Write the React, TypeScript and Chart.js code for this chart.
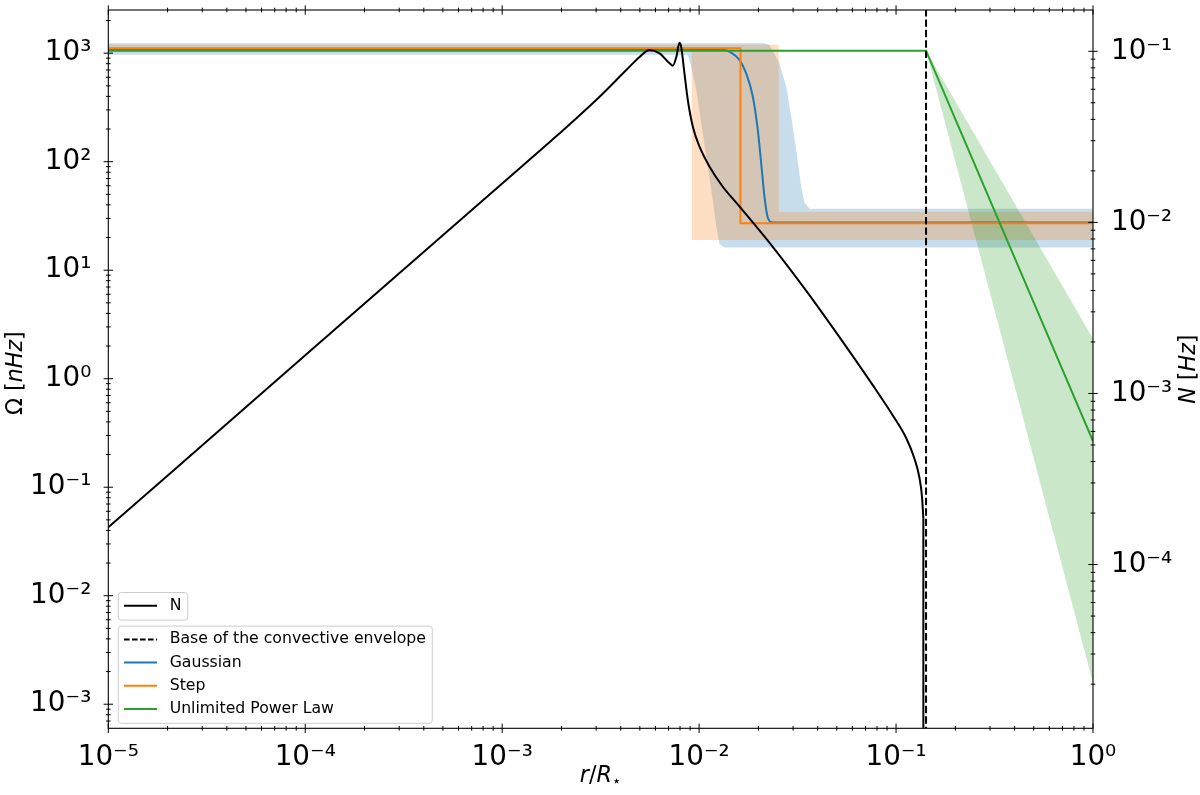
import React, { useEffect, useRef } from 'react';
import { Chart, registerables } from 'chart.js';

Chart.register(...registerables);

// ---------------- axis ranges ----------------
const R_RANGE = [1e-5, 1];
const OMEGA_RANGE = [6.37e-4, 2500];
const N_RANGE = [1.104e-5, 0.1743];

// ---------------- tick labels ----------------
const R_TICKS = [1e-5, 1e-4, 1e-3, 1e-2, 1e-1, 1];
const R_TICK_LABELS = ['10⁻⁵', '10⁻⁴', '10⁻³', '10⁻²', '10⁻¹', '10⁰'];
const OMEGA_TICKS = [1e-3, 1e-2, 1e-1, 1, 10, 100, 1000];
const OMEGA_TICK_LABELS = ['10⁻³', '10⁻²', '10⁻¹', '10⁰', '10¹', '10²', '10³'];
const N_TICKS = [1e-4, 1e-3, 1e-2, 1e-1];
const N_TICK_LABELS = ['10⁻⁴', '10⁻³', '10⁻²', '10⁻¹'];

// ---------------- Brunt-Vaisala frequency N (right axis, Hz) ----------------
const N_R = [1e-5, 1e-4, 1e-3, 1.957e-3, 3.124e-3, 4.266e-3, 4.983e-3, 5.603e-3, 6.296e-3, 7.076e-3,
  7.355e-3, 7.669e-3, 7.945e-3, 8.104e-3, 8.424e-3, 8.761e-3, 9.292e-3, 1.005e-2, 1.13e-2, 1.319e-2,
  1.543e-2, 1.802e-2, 2.365e-2, 3.494e-2, 5.161e-2, 7.615e-2, 9.612e-2, 0.1124, 0.1238, 0.1313,
  0.1355, 0.1376];
const N_HZ = [1.652e-4, 1.67e-3, 1.687e-2, 3.315e-2, 5.426e-2, 7.77e-2, 9.26e-2, 1.018e-1, 9.73e-2, 8.51e-2,
  8.24e-2, 9.3e-2, 1.123e-1, 1.064e-1, 7.43e-2, 5.19e-2, 3.62e-2, 2.768e-2, 2.114e-2, 1.615e-2,
  1.305e-2, 1.055e-2, 7.2e-3, 3.993e-3, 2.134e-3, 1.118e-3, 7.46e-4, 5.51e-4, 4.18e-4, 3.24e-4,
  2.475e-4, 1.866e-4];
// N falls to zero at the base of the convective envelope
const N_DROP_R = [0.1376, 0.1376];
const N_DROP_HZ = [1.866e-4, 1e-7];

// ---------------- base of the convective envelope ----------------
const BCE_R = [0.142, 0.142];
const BCE_OMEGA = [1e-5, 1e5];

// ---------------- Gaussian profile (left axis, nHz) ----------------
const GAUSS_R = [1e-5, 0.0105, 0.01346, 0.01425, 0.01601, 0.01732, 0.01873, 0.01985, 0.02065, 0.02146, 0.02231, 0.02365, 1];
const GAUSS_OMEGA = [1090, 1088, 1072, 1034, 868, 655, 399, 197.6, 97.7, 48.2, 30.5, 27.5, 27.5];
const GAUSS_BAND_R = [1e-5, 0.0215, 0.02276, 0.02557, 0.02766, 0.02933, 0.03109, 0.03296, 0.03425, 0.03633, 1,
  1, 0.01345, 0.01269, 0.01221, 0.01152, 0.01086, 0.01025, 0.00967, 0.00894, 0.00873, 1e-5];
const GAUSS_BAND_OMEGA = [1235, 1235, 1192, 814, 493, 261.7, 129.4, 59.6, 41.9, 36.9, 36.9,
  16.2, 16.2, 17.4, 25.6, 55.5, 112.3, 229, 460, 868, 965, 965];

// ---------------- Step profile ----------------
const STEP_R = [1e-5, 0.01622, 0.01622, 1];
const STEP_OMEGA = [1111, 1111, 27.07, 27.07];
const STEP_BAND_R = [1e-5, 0.02537, 0.02537, 1, 1, 0.00918, 0.00918, 1e-5];
const STEP_BAND_OMEGA = [1199, 1199, 34.4, 34.4, 19.02, 19.02, 1029, 1029];

// ---------------- Unlimited power law ----------------
const UPL_R = [1e-5, 0.142, 1];
const UPL_OMEGA = [1055, 1055, 0.266];
const UPL_BAND_R = [0.142, 1, 1];
const UPL_BAND_OMEGA = [1055, 2.33, 1.58e-3];

// ---------------- styling ----------------
const BLUE = '#1f77b4';
const ORANGE = '#ff7f0e';
const GREEN = '#2ca02c';
const FAMILY = "'DejaVu Sans'";
const TICK_SIZE = 27.8;
const LABEL_SIZE = 22.2;
const LEGEND_SIZE = 15.7;

const pts = (xs: number[], ys: number[]) => xs.map((x, i) => ({ x, y: ys[i] }));

function logTicks(min: number, max: number): number[] {
  const out: number[] = [];
  const e0 = Math.floor(Math.log10(min));
  const e1 = Math.ceil(Math.log10(max));
  for (let e = e0; e <= e1; e++) {
    for (let m = 1; m <= 9; m++) {
      const v = m * Math.pow(10, e);
      if (v >= min * (1 - 1e-9) && v <= max * (1 + 1e-9)) out.push(v);
    }
  }
  return out;
}
const isDecade = (v: number) => {
  const l = Math.log10(v);
  return Math.abs(l - Math.round(l)) < 1e-6;
};
function labelFor(v: number, ticks: number[], labels: string[]) {
  for (let i = 0; i < ticks.length; i++) {
    if (Math.abs(Math.log10(v) - Math.log10(ticks[i])) < 1e-6) return labels[i];
  }
  return '';
}

// frame + inout ticks on all four spines
const frameTicksPlugin = {
  id: 'frameTicks',
  afterDatasetsDraw(chart: any) {
    const { ctx, chartArea: a, scales } = chart;
    ctx.save();
    ctx.strokeStyle = '#000';
    ctx.lineWidth = 1;
    const seg = (x1: number, y1: number, x2: number, y2: number) => {
      ctx.beginPath();
      ctx.moveTo(x1, y1);
      ctx.lineTo(x2, y2);
      ctx.stroke();
    };
    const MAJ = 4.7;
    const MIN = 2.3;
    for (const v of logTicks(R_RANGE[0], R_RANGE[1])) {
      const p = scales.x.getPixelForValue(v);
      const L = isDecade(v) ? MAJ : MIN;
      seg(p, a.bottom - L, p, a.bottom + L);
      seg(p, a.top - L, p, a.top + L);
    }
    for (const v of logTicks(OMEGA_RANGE[0], OMEGA_RANGE[1])) {
      const p = scales.y.getPixelForValue(v);
      const L = isDecade(v) ? MAJ : MIN;
      seg(a.left - L, p, a.left + L, p);
    }
    for (const v of logTicks(N_RANGE[0], N_RANGE[1])) {
      const p = scales.y2.getPixelForValue(v);
      const L = isDecade(v) ? MAJ : MIN;
      seg(a.right - L, p, a.right + L, p);
    }
    ctx.lineWidth = 1.1;
    ctx.strokeRect(a.left, a.top, a.right - a.left, a.bottom - a.top);
    ctx.restore();
  },
};

type Seg = { t: string; it?: boolean; scale?: number; dy?: number };
function drawSegs(ctx: CanvasRenderingContext2D, segs: Seg[], size: number) {
  const widths = segs.map((s) => {
    ctx.font = `${s.it ? 'italic ' : ''}${size * (s.scale || 1)}px ${FAMILY}`;
    return ctx.measureText(s.t).width;
  });
  const total = widths.reduce((p, c) => p + c, 0);
  let x = -total / 2;
  ctx.textBaseline = 'alphabetic';
  ctx.textAlign = 'left';
  segs.forEach((s, i) => {
    ctx.font = `${s.it ? 'italic ' : ''}${size * (s.scale || 1)}px ${FAMILY}`;
    ctx.fillText(s.t, x, s.dy || 0);
    x += widths[i];
  });
}

const titlesPlugin = {
  id: 'axisTitles',
  afterDraw(chart: any) {
    const { ctx, chartArea: a } = chart;
    const cy = (a.top + a.bottom) / 2;
    const cx = (a.left + a.right) / 2;
    ctx.save();
    ctx.fillStyle = '#000';
    ctx.save();
    ctx.translate(22, cy + 4);
    ctx.rotate(-Math.PI / 2);
    drawSegs(ctx, [{ t: 'Ω' }, { t: ' [' }, { t: 'nHz', it: true }, { t: ']' }], LABEL_SIZE);
    ctx.restore();
    ctx.save();
    ctx.translate(1195, cy);
    ctx.rotate(-Math.PI / 2);
    drawSegs(ctx, [{ t: 'N', it: true }, { t: ' [' }, { t: 'Hz', it: true }, { t: ']' }], LABEL_SIZE);
    ctx.restore();
    ctx.save();
    ctx.translate(cx, 782);
    drawSegs(ctx, [{ t: 'r', it: true }, { t: '/' }, { t: 'R', it: true }, { t: '⋆', scale: 0.7, dy: 4 }], LABEL_SIZE);
    ctx.restore();
    ctx.restore();
  },
};

function roundRect(ctx: CanvasRenderingContext2D, x: number, y: number, w: number, h: number, r: number) {
  ctx.beginPath();
  ctx.moveTo(x + r, y);
  ctx.lineTo(x + w - r, y);
  ctx.arcTo(x + w, y, x + w, y + r, r);
  ctx.lineTo(x + w, y + h - r);
  ctx.arcTo(x + w, y + h, x + w - r, y + h, r);
  ctx.lineTo(x + r, y + h);
  ctx.arcTo(x, y + h, x, y + h - r, r);
  ctx.lineTo(x, y + r);
  ctx.arcTo(x, y, x + r, y, r);
  ctx.closePath();
}

function drawLegendBox(ctx: CanvasRenderingContext2D, left: number, bottom: number, items: any[]) {
  const padL = 5.7, handle = 33, gap = 12.7, padR = 6.3, rowH = 23.2, padT = 13.3, padB = 14.3;
  ctx.font = `${LEGEND_SIZE}px ${FAMILY}`;
  const textW = Math.max(...items.map((it) => ctx.measureText(it.label).width));
  const w = padL + handle + gap + textW + padR;
  const h = padT + padB + (items.length - 1) * rowH;
  const top = bottom - h;
  roundRect(ctx, left, top, w, h, 3);
  ctx.fillStyle = 'rgba(255,255,255,0.8)';
  ctx.fill();
  ctx.strokeStyle = '#cccccc';
  ctx.lineWidth = 1;
  ctx.stroke();
  items.forEach((it, i) => {
    const y = top + padT + i * rowH;
    ctx.save();
    ctx.strokeStyle = it.borderColor;
    ctx.lineWidth = it.borderWidth;
    ctx.setLineDash(it.borderDash ? [5.6, 2.4] : []);
    ctx.beginPath();
    ctx.moveTo(left + padL, y);
    ctx.lineTo(left + padL + handle, y);
    ctx.stroke();
    ctx.restore();
    ctx.fillStyle = '#000';
    ctx.textBaseline = 'middle';
    ctx.textAlign = 'left';
    ctx.font = `${LEGEND_SIZE}px ${FAMILY}`;
    ctx.fillText(it.label, left + padL + handle + gap, y);
  });
  return top;
}

const legendPlugin = {
  id: 'twinLegends',
  afterDraw(chart: any) {
    const { ctx, chartArea: a } = chart;
    const ds = chart.data.datasets;
    const box1 = ds.filter((d: any) => d.legendBox === 1);
    const box2 = ds.filter((d: any) => d.legendBox === 2).sort((p: any, q: any) => p.legendRank - q.legendRank);
    ctx.save();
    const top2 = drawLegendBox(ctx, a.left + 10, a.bottom - 5, box2);
    drawLegendBox(ctx, a.left + 10, top2 - 6, box1);
    ctx.restore();
  },
};

const tickFont = { family: FAMILY, size: TICK_SIZE };

export default function App() {
  const ref = useRef<HTMLCanvasElement>(null);
  useEffect(() => {
    const line = { pointRadius: 0, pointHoverRadius: 0, pointHitRadius: 0, fill: false };
    const band = {
      pointRadius: 0, pointHoverRadius: 0, pointHitRadius: 0,
      borderWidth: 0, borderColor: 'rgba(0,0,0,0)', fill: 'shape', tension: 0,
    };
    const chart = new Chart(ref.current as HTMLCanvasElement, {
      type: 'line',
      data: {
        datasets: [
          { ...line, label: 'N', data: pts(N_R, N_HZ), yAxisID: 'y2', borderColor: '#000', borderWidth: 2,
            cubicInterpolationMode: 'monotone', order: 1, legendBox: 1, legendRank: 0 } as any,
          { ...line, label: 'N (drop at envelope base)', data: pts(N_DROP_R, N_DROP_HZ), yAxisID: 'y2',
            borderColor: '#000', borderWidth: 2, order: 1 } as any,
          { ...line, label: 'Base of the convective envelope', data: pts(BCE_R, BCE_OMEGA), yAxisID: 'y',
            borderColor: '#000', borderWidth: 2, borderDash: [7.4, 3], order: 2, legendBox: 2, legendRank: 0 } as any,
          { ...line, label: 'Gaussian', data: pts(GAUSS_R, GAUSS_OMEGA), yAxisID: 'y', borderColor: BLUE,
            borderWidth: 2, cubicInterpolationMode: 'monotone', order: 5, legendBox: 2, legendRank: 1 } as any,
          { ...line, label: 'Step', data: pts(STEP_R, STEP_OMEGA), yAxisID: 'y', borderColor: ORANGE,
            borderWidth: 2, order: 4, legendBox: 2, legendRank: 2 } as any,
          { ...line, label: 'Unlimited Power Law', data: pts(UPL_R, UPL_OMEGA), yAxisID: 'y', borderColor: GREEN,
            borderWidth: 2, order: 3, legendBox: 2, legendRank: 3 } as any,
          { ...band, label: 'Gaussian range', data: pts(GAUSS_BAND_R, GAUSS_BAND_OMEGA), yAxisID: 'y',
            backgroundColor: 'rgba(31,119,180,0.25)', order: 8 } as any,
          { ...band, label: 'Step range', data: pts(STEP_BAND_R, STEP_BAND_OMEGA), yAxisID: 'y',
            backgroundColor: 'rgba(255,127,14,0.25)', order: 7 } as any,
          { ...band, label: 'Power law range', data: pts(UPL_BAND_R, UPL_BAND_OMEGA), yAxisID: 'y',
            backgroundColor: 'rgba(44,160,44,0.25)', order: 6 } as any,
        ],
      },
      options: {
        responsive: false,
        animation: false,
        devicePixelRatio: 1,
        events: [],
        layout: { padding: { top: 10, left: 0, right: 0, bottom: 0 } },
        plugins: { legend: { display: false }, tooltip: { enabled: false } },
        scales: {
          x: {
            type: 'logarithmic', position: 'bottom', min: R_RANGE[0], max: R_RANGE[1],
            grid: { display: false }, border: { display: false },
            afterBuildTicks: (s: any) => { s.ticks = logTicks(R_RANGE[0], R_RANGE[1]).map((v) => ({ value: v })); },
            afterFit: (s: any) => { s.height = 66.7; s.paddingLeft = 0; s.paddingRight = 0; },
            ticks: {
              autoSkip: false, maxRotation: 0, minRotation: 0, padding: 4.5, color: '#000', font: tickFont,
              callback: (v: any) => labelFor(Number(v), R_TICKS, R_TICK_LABELS),
            },
          },
          y: {
            type: 'logarithmic', position: 'left', min: OMEGA_RANGE[0], max: OMEGA_RANGE[1],
            grid: { display: false }, border: { display: false },
            afterBuildTicks: (s: any) => { s.ticks = logTicks(OMEGA_RANGE[0], OMEGA_RANGE[1]).map((v) => ({ value: v })); },
            afterFit: (s: any) => { s.width = 108.3; s.paddingTop = 0; s.paddingBottom = 0; },
            ticks: {
              autoSkip: false, padding: 9, color: '#000', font: tickFont,
              callback: (v: any) => labelFor(Number(v), OMEGA_TICKS, OMEGA_TICK_LABELS),
            },
          },
          y2: {
            type: 'logarithmic', position: 'right', min: N_RANGE[0], max: N_RANGE[1],
            grid: { display: false }, border: { display: false },
            afterBuildTicks: (s: any) => { s.ticks = logTicks(N_RANGE[0], N_RANGE[1]).map((v) => ({ value: v })); },
            afterFit: (s: any) => { s.width = 107; s.paddingTop = 0; s.paddingBottom = 0; },
            ticks: {
              autoSkip: false, padding: 10, color: '#000', font: tickFont,
              callback: (v: any) => labelFor(Number(v), N_TICKS, N_TICK_LABELS),
            },
          },
        },
      } as any,
      plugins: [frameTicksPlugin, titlesPlugin, legendPlugin],
    } as any);
    return () => chart.destroy();
  }, []);

  return (
    <div style={{ position: 'absolute', left: 0, top: 0, width: 1200, height: 795, background: '#fff' }}>
      <canvas ref={ref} width={1200} height={795} style={{ display: 'block', width: 1200, height: 795 }} />
    </div>
  );
}
